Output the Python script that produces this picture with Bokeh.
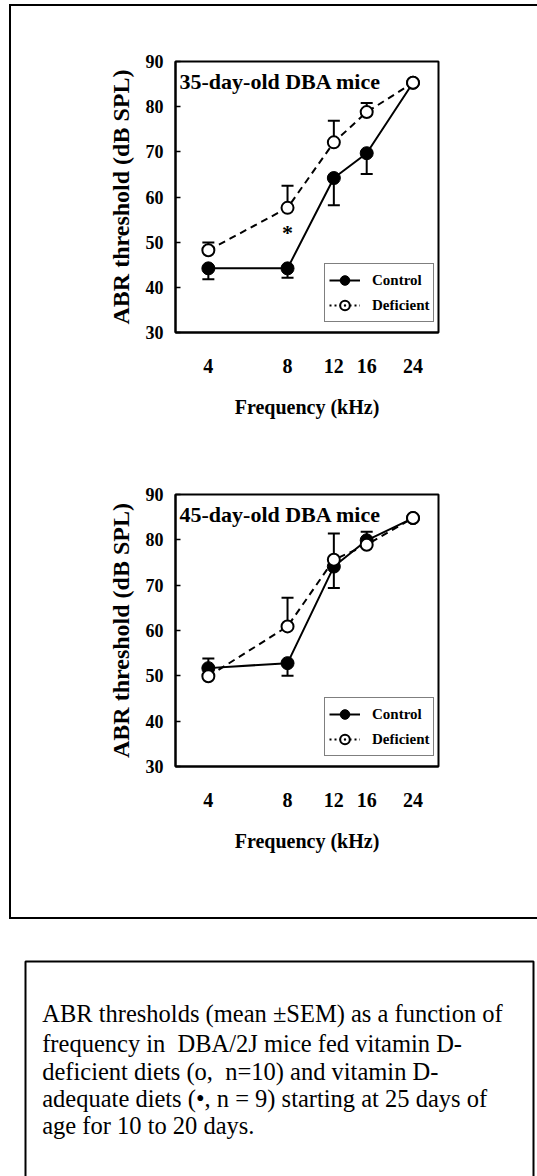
from bokeh.plotting import figure
from bokeh.layouts import column
from bokeh.models import Range1d, FixedTicker, Legend, LegendItem, Label
from bokeh.embed import file_html
from bokeh.resources import INLINE
from bokeh.core.properties import value

# ---------------- data ----------------
freqs = [4, 8, 12, 16, 24]
freq_labels = ["4", "8", "12", "16", "24"]
y_ticks = [30, 40, 50, 60, 70, 80, 90]

ctrl_35 = [44.2, 44.2, 64.2, 69.7, 85.3]
ctrl_35_bar = [41.8, 42.1, 58.2, 65.1, None]
def_35 = [48.2, 57.6, 72.1, 78.8, 85.3]
def_35_bar = [49.9, 62.5, 76.9, 80.8, None]
sig_35_freq = [8]
sig_35_y = [51.7]

ctrl_45 = [51.7, 52.8, 74.1, 79.9, 84.8]
ctrl_45_bar = [53.8, 50.0, 69.4, 81.8, None]
def_45 = [49.9, 60.9, 75.6, 78.9, 84.8]
def_45_bar = [None, 67.2, 81.4, None, None]

titles = ["35-day-old DBA mice", "45-day-old DBA mice"]
x_title = "Frequency (kHz)"
y_title = "ABR threshold (dB SPL)"
legend_labels = ["Control", "Deficient"]
caption_lines = [
    "ABR thresholds (mean \u00b1SEM) as a function of",
    "frequency in\u00a0 DBA/2J mice fed vitamin D-",
    "deficient diets (o,\u00a0 n=10) and vitamin D-",
    "adequate diets (\u2022, n = 9) starting at 25 days of",
    "age for 10 to 20 days.",
]

FONT = "Liberation Serif"


def bars(ys, ends):
    xs0, y0, y1 = [], [], []
    for f, m, e in zip(freqs, ys, ends):
        if e is not None:
            xs0.append(f)
            y0.append(m)
            y1.append(e)
    return xs0, y0, y1


def panel(title, ctrl, ctrl_bar, dfc, dfc_bar, sig_x, sig_y, b_left, b_right, b_top, b_bottom, f_height):
    p = figure(x_axis_type="log", x_range=Range1d(3, 30), y_range=Range1d(30, 90),
               frame_width=263, frame_height=f_height,
               min_border_left=b_left, min_border_right=b_right,
               min_border_top=b_top, min_border_bottom=b_bottom,
               output_backend="svg", toolbar_location=None)
    p.xgrid.visible = False
    p.ygrid.visible = False
    p.outline_line_color = "black"
    p.outline_line_width = 2
    p.background_fill_color = "white"
    p.border_fill_color = "white"

    # x axis
    p.xaxis.ticker = FixedTicker(ticks=freqs, minor_ticks=[])
    p.xaxis.major_label_overrides = {f: l for f, l in zip(freqs, freq_labels)}
    p.xaxis.major_tick_line_color = None
    p.xaxis.minor_tick_line_color = None
    p.xaxis.major_label_standoff = 20
    p.xaxis.axis_label = x_title
    p.xaxis.axis_label_standoff = 20
    # y axis
    p.yaxis.ticker = FixedTicker(ticks=y_ticks, minor_ticks=[])
    p.yaxis.major_tick_in = 5
    p.yaxis.major_tick_out = 0
    p.yaxis.minor_tick_line_color = None
    p.yaxis.major_tick_line_width = 1.5
    p.yaxis.major_label_standoff = 12
    p.yaxis.axis_label = y_title
    p.yaxis.axis_label_standoff = 9
    for ax in (p.xaxis, p.yaxis):
        ax.axis_line_width = 2
        ax.axis_line_color = "black"
        ax.major_label_text_font = FONT
        ax.major_label_text_font_style = "bold"
        ax.major_label_text_color = "black"
        ax.axis_label_text_font = FONT
        ax.axis_label_text_font_style = "bold"
        ax.axis_label_text_color = "black"
    p.xaxis.major_label_text_font_size = "20px"
    p.yaxis.major_label_text_font_size = "18px"
    p.xaxis.axis_label_text_font_size = "20px"
    p.yaxis.axis_label_text_font_size = "24px"

    # error bars
    for ys, ends in ((ctrl, ctrl_bar), (dfc, dfc_bar)):
        bx, by0, by1 = bars(ys, ends)
        p.segment(x0=bx, y0=by0, x1=bx, y1=by1, line_color="black", line_width=2)
        p.scatter(x=bx, y=by1, marker="dash", size=12, line_color="black", line_width=2)

    # lines and markers
    p.line(freqs, ctrl, line_color="black", line_width=2)
    p.line(freqs, dfc, line_color="black", line_width=2, line_dash="7 5")
    p.scatter(freqs, ctrl, marker="circle", size=13, fill_color="black", line_color="black")
    p.scatter(freqs, dfc, marker="circle", size=12, fill_color="white", line_color="black", line_width=2)

    if sig_x:
        p.text(x=sig_x, y=sig_y, text=["*"] * len(sig_x), text_font=value(FONT),
               text_font_style="bold", text_font_size="22px", text_align="center",
               text_baseline="middle", y_offset=-2, text_color="black")

    p.add_layout(Label(x=3, y=90, x_offset=4, y_offset=-7, text=title, text_baseline="top",
                       text_font=FONT, text_font_style="bold", text_font_size="22px",
                       text_color="black"))

    # legend key glyphs: off-range dummy points so only the key shows them
    kx = [freqs[0]]
    ky = [y_ticks[0] - 100]
    lc = p.line(kx, ky, line_color="black", line_width=2)
    mc = p.scatter(kx, ky, marker="circle", size=10, fill_color="black", line_color="black")
    ld = p.line(kx, ky, line_color="black", line_width=2, line_dash="2 3")
    md = p.scatter(kx, ky, marker="circle_dot", size=10, fill_color="white", line_color="black", line_width=2)
    legend = Legend(items=[LegendItem(label=legend_labels[0], renderers=[lc, mc]),
                           LegendItem(label=legend_labels[1], renderers=[ld, md])],
                    location=(149, 10), glyph_width=31, glyph_height=24, label_height=24,
                    label_standoff=12, padding=4, spacing=1, margin=0,
                    label_text_font=FONT, label_text_font_style="bold",
                    label_text_font_size="15px", label_text_color="black",
                    border_line_color="black", border_line_width=1.5,
                    background_fill_color="white", background_fill_alpha=1)
    p.add_layout(legend, "center")
    return p


p1 = panel(titles[0], ctrl_35, ctrl_35_bar, def_35, def_35_bar, sig_35_freq, sig_35_y,
           162, 101, 55, 118, 271)
p2 = panel(titles[1], ctrl_45, ctrl_45_bar, def_45, def_45_bar, [], [],
           164, 99, 44, 151, 272)

outer = column(p1, p2, margin=(4, 0, 0, 9),
               styles={"border-left": "2px solid black", "border-top": "2px solid black",
                       "border-bottom": "2px solid black", "border-right": "none"})

# caption figure (pixel-space canvas)
p3 = figure(width=537, height=257, x_range=Range1d(0, 537), y_range=Range1d(1176, 919),
            min_border=0, output_backend="svg", toolbar_location=None,
            x_axis_location=None, y_axis_location=None)
p3.xgrid.visible = False
p3.ygrid.visible = False
p3.outline_line_color = None
p3.line(x=[25, 25, 533, 533], y=[1190, 961, 961, 1190], line_color="black", line_width=2)
p3.text(x=[41.7] * len(caption_lines), y=[1013, 1043, 1071, 1098, 1125], text=caption_lines,
        text_font=value(FONT), text_font_size="24.5px", text_baseline="middle", text_color="black")

root = column(outer, p3)
open("out.html", "w").write(file_html(root, INLINE))
